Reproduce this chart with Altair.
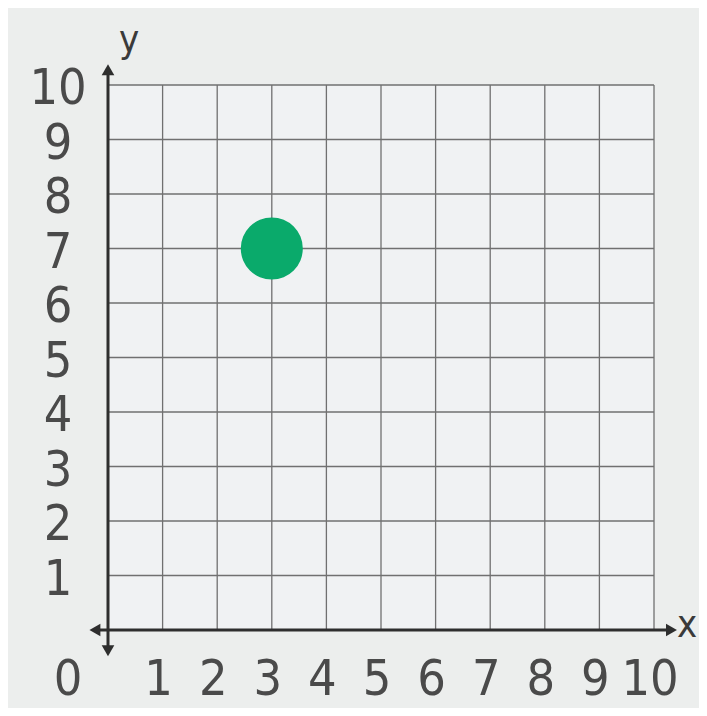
import altair as alt
import pandas as pd

# data
grid_values = list(range(0, 11))
x_tick_labels = [str(v) for v in range(1, 11)]
x_tick_pos = list(range(1, 11))
y_tick_labels = [str(v) for v in range(1, 11)]
y_tick_pos = list(range(1, 11))
point_x = [3]
point_y = [7]

# axis extents (data units) incl. arrow overhang
x_axis_from, x_axis_to = -0.24, 10.32
y_axis_from, y_axis_to = -0.38, 10.28

FONT = "DejaVu Sans Condensed, Liberation Sans Narrow, Liberation Sans, sans-serif"
LABEL_COLOR = "#4a4a4a"
FS = 50

xs = alt.Scale(domain=[0, 10], nice=False, zero=False)
ys = alt.Scale(domain=[0, 10], nice=False, zero=False)

W, H = 546, 545

grid_df = pd.DataFrame({"v": grid_values})
grid_x = alt.Chart(grid_df).mark_rule(color="#707070", strokeWidth=1.3).encode(
    x=alt.X("v:Q", scale=xs, axis=None)
)
grid_y = alt.Chart(grid_df).mark_rule(color="#707070", strokeWidth=1.3).encode(
    y=alt.Y("v:Q", scale=ys, axis=None)
)

axes_df = pd.DataFrame({
    "x": [x_axis_from, 0], "x2": [x_axis_to, 0],
    "y": [0, y_axis_from], "y2": [0, y_axis_to],
})
axes = alt.Chart(axes_df).mark_rule(color="#2e2e2e", strokeWidth=3).encode(
    x=alt.X("x:Q", scale=xs, axis=None), x2="x2:Q",
    y=alt.Y("y:Q", scale=ys, axis=None), y2="y2:Q",
)

arrows_df = pd.DataFrame({
    "x": [x_axis_to, x_axis_from, 0, 0],
    "y": [0, 0, y_axis_to, y_axis_from],
    "shape": ["triangle-right", "triangle-left", "triangle-up", "triangle-down"],
})
arrows = alt.Chart(arrows_df).mark_point(filled=True, color="#2e2e2e", size=160, opacity=1).encode(
    x=alt.X("x:Q", scale=xs, axis=None),
    y=alt.Y("y:Q", scale=ys, axis=None),
    shape=alt.Shape("shape:N", scale=None),
)

pt_df = pd.DataFrame({"x": point_x, "y": point_y})
pt = alt.Chart(pt_df).mark_circle(color="#0aaa6b", size=3850, opacity=1).encode(
    x=alt.X("x:Q", scale=xs, axis=None),
    y=alt.Y("y:Q", scale=ys, axis=None),
)

xl_df = pd.DataFrame({"x": x_tick_pos, "label": x_tick_labels})
xl = alt.Chart(xl_df).mark_text(
    font=FONT, fontSize=FS, color=LABEL_COLOR, baseline="middle", align="center", dy=50, dx=-4
).encode(
    x=alt.X("x:Q", scale=xs, axis=None),
    y=alt.value(H),
    text="label:N",
)

zero_df = pd.DataFrame({"x": [0], "label": ["0"]})
zero = alt.Chart(zero_df).mark_text(
    font=FONT, fontSize=FS, color=LABEL_COLOR, baseline="middle", align="center", dy=50, dx=-40
).encode(
    x=alt.X("x:Q", scale=xs, axis=None),
    y=alt.value(H),
    text="label:N",
)

yl_df = pd.DataFrame({"y": y_tick_pos, "label": y_tick_labels})
yl = alt.Chart(yl_df).mark_text(
    font=FONT, fontSize=FS, color=LABEL_COLOR, baseline="middle", align="center", dx=-50, dy=4
).encode(
    x=alt.value(0),
    y=alt.Y("y:Q", scale=ys, axis=None),
    text="label:N",
)

names_df = pd.DataFrame({"x": [10.42, 0.2], "y": [0.07, 10.8], "label": ["x", "y"]})
names = alt.Chart(names_df).mark_text(
    font=FONT, fontSize=38, color="#3a3a3a", baseline="middle", align="left", dx=0
).encode(
    x=alt.X("x:Q", scale=xs, axis=None),
    y=alt.Y("y:Q", scale=ys, axis=None),
    text="label:N",
)

chart = alt.layer(grid_x, grid_y, axes, arrows, pt, xl, zero, yl, names).properties(
    width=W, height=H,
    autosize=alt.AutoSizeParams(type="none"),
    padding={"left": 100, "top": 77, "right": 45, "bottom": 78},
    background="#eceeed",
).configure_view(stroke=None, fill="#f0f2f3")

chart.save("out.html", embed_options={"renderer": "svg", "actions": False})
